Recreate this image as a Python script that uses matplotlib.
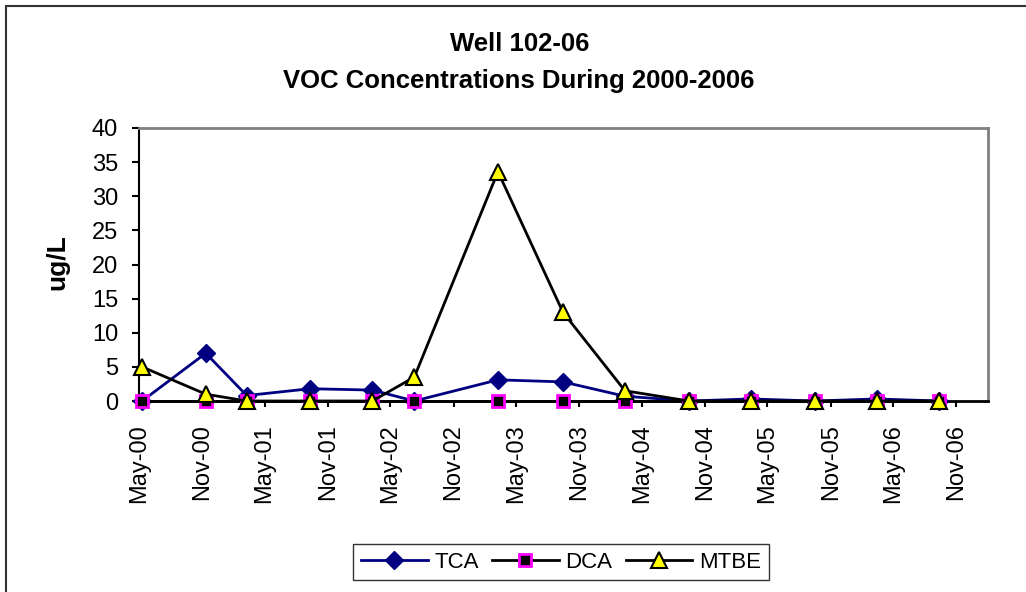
import matplotlib
matplotlib.use("Agg")
import matplotlib.pyplot as plt
import matplotlib.dates as mdates
from matplotlib.patches import Rectangle
import numpy as np

plt.rcParams['font.family'] = ['Liberation Sans', 'DejaVu Sans']

# sample dates and concentrations (ug/L)
dates = np.array(['2000-05-10', '2000-11-11', '2001-03-10', '2001-09-10', '2002-03-10',
                  '2002-07-10', '2003-03-10', '2003-09-15', '2004-03-13', '2004-09-15',
                  '2005-03-15', '2005-09-15', '2006-03-15', '2006-09-13'], dtype='datetime64[D]')
tca = [0, 7.0, 0.8, 1.8, 1.6, 0, 3.1, 2.8, 0.7, 0, 0.3, 0, 0.3, 0]
dca = [0, 0, 0, 0, 0, 0, 0, 0, 0, 0, 0, 0, 0, 0]
mtbe = [5.0, 1.0, 0, 0, 0, 3.5, 33.6, 13.0, 1.5, 0, 0, 0, 0, 0]

W, H = 1026, 592
fig = plt.figure(figsize=(W / 100, H / 100), dpi=100)
ax = fig.add_axes([139 / W, 1 - 401 / H, (988 - 139) / W, (401 - 128) / H])

ax.plot(dates, tca, color='#000080', lw=2, marker='D', ms=9,
        mfc='#000080', mec='#000080', label='TCA', clip_on=False, zorder=3)
ax.plot(dates, dca, color='black', lw=2, marker='s', ms=9,
        mfc='black', mec='#FF00FF', mew=2, label='DCA', clip_on=False, zorder=4)
ax.plot(dates, mtbe, color='black', lw=2, marker='^', ms=12,
        mfc='#FFFF00', mec='black', mew=1.5, label='MTBE', clip_on=False, zorder=5)

ax.set_ylim(0, 40)
ax.set_yticks(range(0, 41, 5))
ax.set_xlim(np.datetime64('2000-05-01'), np.datetime64('2007-02-01'))
ax.xaxis.set_major_locator(mdates.MonthLocator(bymonth=[5, 11]))
ax.xaxis.set_major_formatter(mdates.DateFormatter('%b-%y'))
ax.tick_params(axis='x', rotation=90, labelsize=17, length=4.5, width=1.5, pad=12)
ax.tick_params(axis='y', labelsize=17, length=5, width=1.5, pad=10)
for lbl in ax.get_xticklabels():
    lbl.set_ha('center')

ax.spines['left'].set_color('black')
ax.spines['left'].set_linewidth(1.5)
ax.spines['bottom'].set_color('black')
ax.spines['bottom'].set_linewidth(2)
ax.spines['top'].set_color('#808080')
ax.spines['top'].set_linewidth(2)
ax.spines['right'].set_color('#808080')
ax.spines['right'].set_linewidth(2)

fig.text(57 / W, 1 - 262 / H, 'ug/L', rotation=90, fontsize=19, fontweight='bold',
         ha='center', va='center')
fig.text(520 / W, 1 - 44 / H, 'Well 102-06', fontsize=18.5, fontweight='bold',
         ha='center', va='center')
fig.text(519 / W, 1 - 81 / H, 'VOC Concentrations During 2000-2006', fontsize=18.5,
         fontweight='bold', ha='center', va='center')

leg = fig.legend(loc='center', bbox_to_anchor=(561 / W, 1 - 562 / H), ncol=3,
                 fontsize=16, frameon=True, fancybox=False, edgecolor='black',
                 handlelength=3, handletextpad=0.3, columnspacing=0.6,
                 borderpad=0.35)
leg.get_frame().set_linewidth(1)

# chart area border
fig.patches.append(Rectangle((6 / W, -0.05), 1.2, 1.05 - 6 / H, transform=fig.transFigure,
                             fill=False, edgecolor='#333333', lw=1.5))

fig.savefig('out.png', dpi=100)
